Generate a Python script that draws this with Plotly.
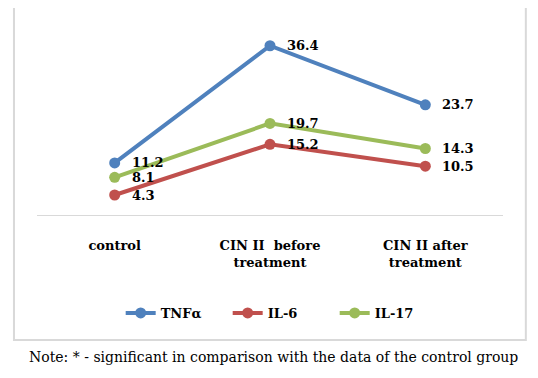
import plotly.graph_objects as go

categories = ["control", "CIN II  before<br>treatment", "CIN II after<br>treatment"]
tnf = [11.2, 36.4, 23.7]
il6 = [4.3, 15.2, 10.5]
il17 = [8.1, 19.7, 14.3]
series_names = ["TNFα", "IL-6", "IL-17"]
colors = ["#4f81bd", "#c0504d", "#9bbb59"]
note = "Note: * - significant in comparison with the data of the control group"

SERIF = "DejaVu Serif"

fig = go.Figure()
for name, vals, col in zip(series_names, [tnf, il6, il17], colors):
    fig.add_trace(go.Scatter(
        x=categories, y=vals, name=f"<b>{name}</b>", mode="lines+markers",
        line=dict(color=col, width=4),
        marker=dict(color=col, size=11),
    ))

annotations = []
for vals in [tnf, il6, il17]:
    for c, v in zip(categories, vals):
        annotations.append(dict(
            x=c, y=v, xref="x", yref="y", text=f"<b>{v}</b>", showarrow=False,
            xanchor="left", yanchor="middle", xshift=15,
            font=dict(family=SERIF, size=13, color="#000000"),
        ))

annotations.append(dict(
    x=-0.0215, y=-0.763, xref="paper", yref="paper", text=note, showarrow=False,
    xanchor="left", yanchor="middle",
    font=dict(family=SERIF, size=14, color="#000000"),
))

fig.update_layout(
    width=530, height=370,
    margin=dict(l=29, r=35, t=21, b=163),
    paper_bgcolor="white", plot_bgcolor="white",
    font=dict(family=SERIF),
    showlegend=True,
    legend=dict(orientation="h", x=0.524, xanchor="center", y=-0.527, yanchor="middle",
                font=dict(family=SERIF, size=13, color="#000000"),
                entrywidth=62, entrywidthmode="pixels",
                bgcolor="rgba(0,0,0,0)"),
    xaxis=dict(type="category", showgrid=False, zeroline=False,
               showline=True, linecolor="#d9d9d9", linewidth=1,
               ticks="", ticklabelstandoff=18,
               tickvals=categories,
               ticktext=["<b>" + c.replace("<br>", "</b><br><b>") + "</b>" for c in categories],
               tickfont=dict(family=SERIF, size=13, color="#000000"),
               range=[-0.5, 2.5]),
    yaxis=dict(range=[0, 40], visible=False, showgrid=False, zeroline=False),
    annotations=annotations,
    shapes=[dict(type="rect", xref="paper", yref="paper",
                 x0=-0.0494, x1=1.049, y0=-0.672, y1=1.1237,
                 line=dict(color="#d9d9d9", width=2), fillcolor="rgba(0,0,0,0)")],
)

fig.write_html("out.html")
